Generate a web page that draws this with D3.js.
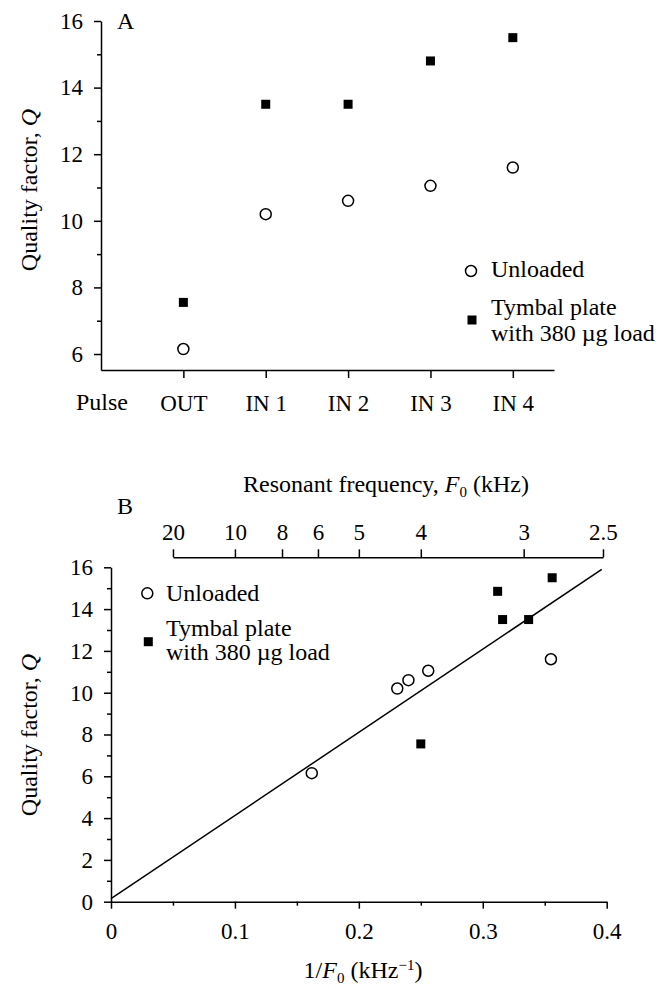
<!DOCTYPE html>
<html>
<head>
<meta charset="utf-8">
<script src="https://cdn.jsdelivr.net/npm/d3@7"></script>
<style>
    body { margin: 0; background: #fff; }
    .axis path, .axis line { stroke: #000; stroke-width: 1.5px; }
</style>
</head>
<body>
<div id="chart"></div>
<script>
// Panel A: Q for each pulse
var pulses = ["OUT", "IN 1", "IN 2", "IN 3", "IN 4"];
var unloadedQ = [6.15, 10.2, 10.6, 11.05, 11.6];
var loadedQ = [7.55, 13.5, 13.5, 14.8, 15.5];

// Panel B: Q against 1/F0 (kHz^-1)
var unloadedInvF = [0.162, 0.231, 0.240, 0.256, 0.355];
var unloadedQB = [6.15, 10.2, 10.6, 11.05, 11.6];
var loadedInvF = [0.250, 0.312, 0.316, 0.337, 0.356];
var loadedQB = [7.55, 14.85, 13.5, 13.5, 15.5];

// regression line end points [1/F0, Q]
var fitLine = [[0, 0.15], [0.396, 15.9]];

// top axis: resonant frequency labels and where they sit on the 1/F0 scale
var freqLabels = ["20", "10", "8", "6", "5", "4", "3", "2.5"];
var freqPos = [0.05, 0.1, 0.138, 0.167, 0.2, 0.25, 0.333, 0.397];

var legendLabels = ["Unloaded", "Tymbal plate", "with 380 \u00b5g load"];

var FONT = "'Liberation Serif', 'Times New Roman', serif";

function init() {
    var width = 663;
    var height = 989;

    var svg = d3.select("#chart")
        .append("svg")
        .attr("width", width)
        .attr("height", height)
        .style("font-family", FONT)
        .style("font-size", "24px");

    // ---------- Panel A ----------
    var xA = d3.scaleLinear().domain([0, 5.5]).range([101, 554]);
    var yA = d3.scaleLinear().domain([5.52, 16]).range([370, 21]);

    // minor ticks on y
    svg.append("g")
        .attr("class", "axis")
        .attr("transform", "translate(101,0)")
        .call(d3.axisLeft(yA).tickValues([7, 9, 11, 13, 15]).tickSize(4).tickFormat(""))
        .select(".domain").remove();

    svg.append("g")
        .attr("class", "axis")
        .attr("transform", "translate(101,0)")
        .call(d3.axisLeft(yA).tickValues([6, 8, 10, 12, 14, 16]).tickSize(7).tickPadding(11).tickSizeOuter(0));

    svg.append("g")
        .attr("class", "axis")
        .attr("transform", "translate(0,370)")
        .call(d3.axisBottom(xA)
            .tickValues([1, 2, 3, 4, 5])
            .tickSize(8)
            .tickPadding(17)
            .tickSizeOuter(0)
            .tickFormat((d, i) => pulses[i]));

    svg.append("text")
        .attr("x", 76)
        .attr("y", 410)
        .text("Pulse");

    svg.append("text")
        .attr("x", 117)
        .attr("y", 29)
        .text("A");

    var labelA = svg.append("text")
        .attr("transform", "translate(37,190) rotate(-90)")
        .attr("text-anchor", "middle");
    labelA.append("tspan").text("Quality factor, ");
    labelA.append("tspan").style("font-style", "italic").text("Q");

    svg.selectAll(".ptA-u")
        .data(unloadedQ)
        .enter()
        .append("circle")
        .attr("class", "ptA-u")
        .attr("cx", (d, i) => xA(i + 1))
        .attr("cy", d => yA(d))
        .attr("r", 5.5)
        .attr("fill", "#fff")
        .attr("stroke", "#000")
        .attr("stroke-width", 1.5);

    svg.selectAll(".ptA-l")
        .data(loadedQ)
        .enter()
        .append("rect")
        .attr("class", "ptA-l")
        .attr("x", (d, i) => xA(i + 1) - 4.5)
        .attr("y", d => yA(d) - 4.5)
        .attr("width", 9)
        .attr("height", 9)
        .attr("fill", "#000");

    drawLegend(svg, 471, 271, 472, 320, 491, [277, 315, 341]);

    // ---------- Panel B ----------
    var xB = d3.scaleLinear().domain([0, 0.4]).range([111, 606.7]);
    var yB = d3.scaleLinear().domain([0, 16]).range([901.7, 567.3]);

    svg.append("g")
        .attr("class", "axis")
        .attr("transform", "translate(111,0)")
        .call(d3.axisLeft(yB).tickValues(d3.range(1, 16, 2)).tickSize(4).tickFormat(""))
        .select(".domain").remove();

    svg.append("g")
        .attr("class", "axis")
        .attr("transform", "translate(111,0)")
        .call(d3.axisLeft(yB).tickValues(d3.range(0, 17, 2)).tickSize(7).tickPadding(11).tickSizeOuter(0));

    svg.append("g")
        .attr("class", "axis")
        .attr("transform", "translate(0,901.7)")
        .call(d3.axisBottom(xB).tickValues([0.05, 0.15, 0.25, 0.35]).tickSize(4).tickFormat(""))
        .select(".domain").remove();

    svg.append("g")
        .attr("class", "axis")
        .attr("transform", "translate(0,901.7)")
        .call(d3.axisBottom(xB)
            .tickValues([0, 0.1, 0.2, 0.3, 0.4])
            .tickSize(7)
            .tickPadding(14)
            .tickSizeOuter(0)
            .tickFormat(d => d === 0 ? "0" : d3.format(".1f")(d)));

    // top axis in frequency, placed on the 1/F0 scale
    var xTop = d3.scaleLinear()
        .domain([freqPos[0], freqPos[freqPos.length - 1]])
        .range([xB(freqPos[0]), xB(freqPos[freqPos.length - 1])]);

    svg.append("g")
        .attr("class", "axis")
        .attr("transform", "translate(0,557.3)")
        .call(d3.axisTop(xTop)
            .tickValues(freqPos)
            .tickSize(8)
            .tickPadding(9)
            .tickSizeOuter(0)
            .tickFormat((d, i) => freqLabels[i]));

    var title = svg.append("text")
        .attr("x", 386)
        .attr("y", 492)
        .attr("text-anchor", "middle");
    title.append("tspan").text("Resonant frequency, ");
    title.append("tspan").style("font-style", "italic").text("F");
    title.append("tspan").attr("dy", 5).style("font-size", "15px").text("0");
    title.append("tspan").attr("dy", -5).text(" (kHz)");

    svg.append("text")
        .attr("x", 117)
        .attr("y", 514)
        .text("B");

    var labelB = svg.append("text")
        .attr("transform", "translate(37,735) rotate(-90)")
        .attr("text-anchor", "middle");
    labelB.append("tspan").text("Quality factor, ");
    labelB.append("tspan").style("font-style", "italic").text("Q");

    var xLabel = svg.append("text")
        .attr("x", 363)
        .attr("y", 978)
        .attr("text-anchor", "middle");
    xLabel.append("tspan").text("1/");
    xLabel.append("tspan").style("font-style", "italic").text("F");
    xLabel.append("tspan").attr("dy", 5).style("font-size", "15px").text("0");
    xLabel.append("tspan").attr("dy", -5).text(" (kHz");
    xLabel.append("tspan").attr("dy", -8).style("font-size", "15px").text("\u22121");
    xLabel.append("tspan").attr("dy", 8).text(")");

    // regression line
    svg.append("line")
        .attr("x1", xB(fitLine[0][0]))
        .attr("y1", yB(fitLine[0][1]))
        .attr("x2", xB(fitLine[1][0]))
        .attr("y2", yB(fitLine[1][1]))
        .attr("stroke", "#000")
        .attr("stroke-width", 1.5);

    svg.selectAll(".ptB-u")
        .data(unloadedInvF)
        .enter()
        .append("circle")
        .attr("class", "ptB-u")
        .attr("cx", d => xB(d))
        .attr("cy", (d, i) => yB(unloadedQB[i]))
        .attr("r", 5.5)
        .attr("fill", "#fff")
        .attr("stroke", "#000")
        .attr("stroke-width", 1.5);

    svg.selectAll(".ptB-l")
        .data(loadedInvF)
        .enter()
        .append("rect")
        .attr("class", "ptB-l")
        .attr("x", d => xB(d) - 4.5)
        .attr("y", (d, i) => yB(loadedQB[i]) - 4.5)
        .attr("width", 9)
        .attr("height", 9)
        .attr("fill", "#000");

    drawLegend(svg, 147.3, 593.3, 148.3, 641.7, 166, [600.7, 636, 660]);

    // axis text: same serif face as the rest
    svg.selectAll(".axis")
        .attr("font-family", null)
        .attr("font-size", null);
    svg.selectAll(".axis text")
        .style("font-family", FONT)
        .style("font-size", "23px")
        .attr("fill", "#000");
}

// legend: open circle for unloaded, filled square for loaded plate
function drawLegend(svg, cx, cy, sx, sy, tx, rows) {
    svg.append("circle")
        .attr("cx", cx)
        .attr("cy", cy)
        .attr("r", 5.5)
        .attr("fill", "#fff")
        .attr("stroke", "#000")
        .attr("stroke-width", 1.5);

    svg.append("rect")
        .attr("x", sx - 4.5)
        .attr("y", sy - 4.5)
        .attr("width", 9)
        .attr("height", 9)
        .attr("fill", "#000");

    svg.selectAll(null)
        .data(legendLabels)
        .enter()
        .append("text")
        .attr("x", tx)
        .attr("y", (d, i) => rows[i])
        .text(d => d);
}

window.onload = init;
</script>
</body>
</html>
